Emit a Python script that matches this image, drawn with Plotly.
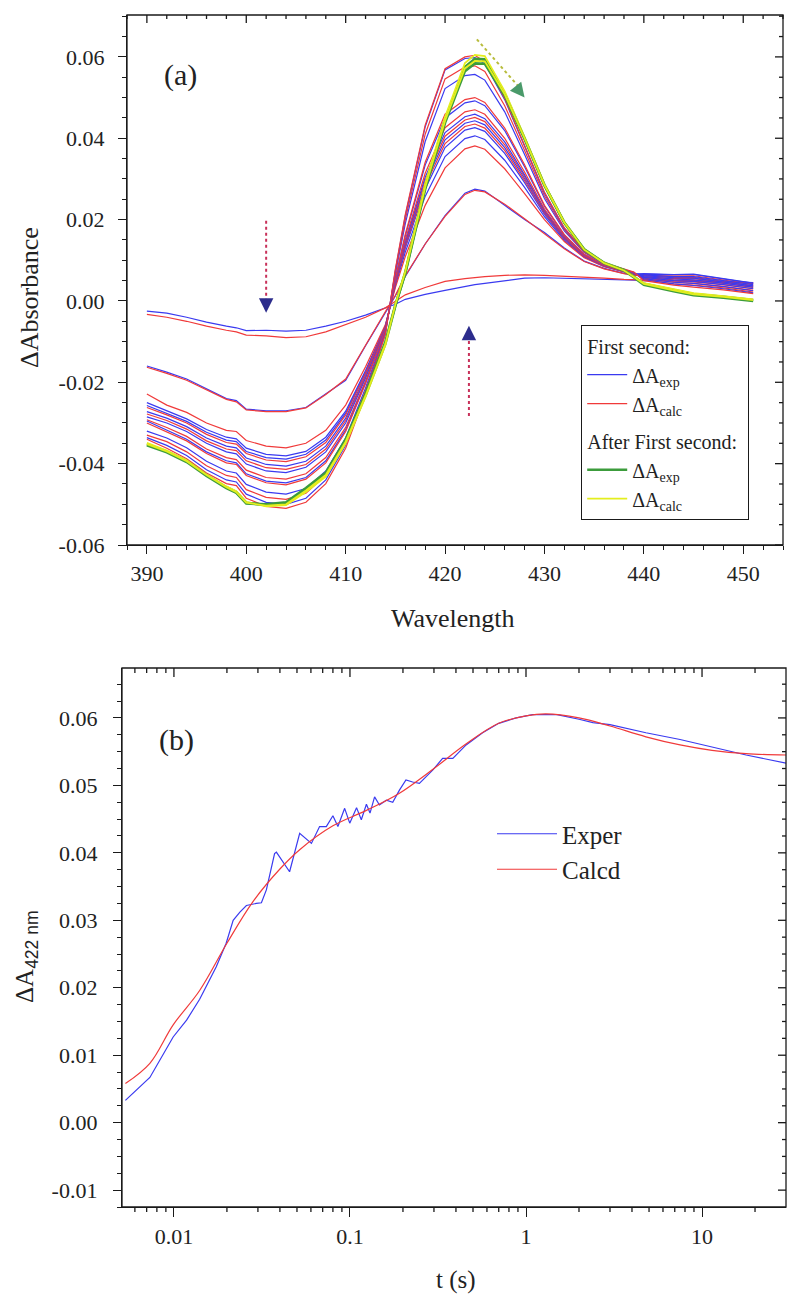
import math
import plotly.graph_objects as go

# ---------------- Panel (a) data ----------------
wavelength = [390, 392, 394, 396, 398, 399, 400, 402, 404, 406, 408, 410, 412, 414, 415, 416, 418,
              420, 422, 423, 424, 426, 428, 430, 432, 434, 436, 438, 439, 440, 443, 445, 448, 451]

exp_1 = [-0.0025, -0.0030, -0.0040, -0.0052, -0.0062, -0.0066, -0.0073, -0.0072, -0.0074, -0.0072, -0.0062, -0.0050, -0.0035, -0.0017, -0.0008, 0.0004, 0.0016, 0.0026, 0.0036, 0.0040, 0.0043, 0.0050, 0.0056, 0.0057, 0.0056, 0.0055, 0.0054, 0.0052, 0.0051, 0.0050, 0.0051, 0.0050, 0.0048, 0.0045]
calc_1 = [-0.0033, -0.0040, -0.0050, -0.0062, -0.0072, -0.0076, -0.0084, -0.0086, -0.0090, -0.0088, -0.0076, -0.0058, -0.0040, -0.0017, 0.0000, 0.0015, 0.0033, 0.0048, 0.0055, 0.0058, 0.0060, 0.0063, 0.0064, 0.0063, 0.0061, 0.0059, 0.0056, 0.0053, 0.0052, 0.0051, 0.0049, 0.0048, 0.0046, 0.0044]
exp_2 = [-0.0160, -0.0175, -0.0192, -0.0215, -0.0240, -0.0245, -0.0266, -0.0270, -0.0270, -0.0262, -0.0228, -0.0195, -0.0110, -0.0028, 0.0012, 0.0060, 0.0140, 0.0210, 0.0265, 0.0275, 0.0270, 0.0235, 0.0200, 0.0168, 0.0130, 0.0098, 0.0080, 0.0068, 0.0064, 0.0066, 0.0064, 0.0065, 0.0054, 0.0043]
calc_2 = [-0.0163, -0.0178, -0.0195, -0.0218, -0.0242, -0.0248, -0.0268, -0.0272, -0.0272, -0.0263, -0.0230, -0.0192, -0.0108, -0.0026, 0.0014, 0.0062, 0.0140, 0.0208, 0.0262, 0.0272, 0.0268, 0.0238, 0.0202, 0.0166, 0.0128, 0.0097, 0.0079, 0.0067, 0.0063, 0.0063, 0.0061, 0.0062, 0.0052, 0.0041]
exp_3 = [-0.0250, -0.0271, -0.0290, -0.0316, -0.0335, -0.0339, -0.0362, -0.0377, -0.0381, -0.0370, -0.0335, -0.0271, -0.0171, -0.0061, 0.0037, 0.0120, 0.0257, 0.0355, 0.0399, 0.0406, 0.0397, 0.0346, 0.0279, 0.0207, 0.0149, 0.0108, 0.0085, 0.0072, 0.0066, 0.0067, 0.0065, 0.0066, 0.0055, 0.0044]
calc_3 = [-0.0229, -0.0256, -0.0274, -0.0300, -0.0318, -0.0321, -0.0343, -0.0357, -0.0361, -0.0350, -0.0318, -0.0256, -0.0162, -0.0058, 0.0033, 0.0109, 0.0235, 0.0327, 0.0374, 0.0381, 0.0373, 0.0325, 0.0264, 0.0200, 0.0146, 0.0106, 0.0084, 0.0071, 0.0066, 0.0062, 0.0058, 0.0058, 0.0048, 0.0038]
exp_4 = [-0.0257, -0.0276, -0.0296, -0.0323, -0.0342, -0.0346, -0.0370, -0.0385, -0.0389, -0.0377, -0.0342, -0.0276, -0.0175, -0.0062, 0.0041, 0.0130, 0.0275, 0.0377, 0.0420, 0.0426, 0.0417, 0.0363, 0.0291, 0.0213, 0.0152, 0.0109, 0.0086, 0.0072, 0.0067, 0.0064, 0.0060, 0.0060, 0.0050, 0.0040]
calc_4 = [-0.0262, -0.0280, -0.0300, -0.0328, -0.0348, -0.0352, -0.0375, -0.0391, -0.0395, -0.0383, -0.0348, -0.0280, -0.0178, -0.0063, 0.0043, 0.0134, 0.0283, 0.0387, 0.0429, 0.0435, 0.0425, 0.0370, 0.0296, 0.0216, 0.0154, 0.0110, 0.0086, 0.0072, 0.0067, 0.0060, 0.0055, 0.0055, 0.0046, 0.0036]
exp_5 = [-0.0272, -0.0288, -0.0309, -0.0337, -0.0357, -0.0361, -0.0386, -0.0402, -0.0406, -0.0394, -0.0357, -0.0288, -0.0183, -0.0065, 0.0045, 0.0138, 0.0290, 0.0396, 0.0437, 0.0443, 0.0433, 0.0377, 0.0301, 0.0218, 0.0155, 0.0110, 0.0087, 0.0073, 0.0067, 0.0062, 0.0057, 0.0056, 0.0047, 0.0037]
calc_5 = [-0.0278, -0.0294, -0.0315, -0.0344, -0.0364, -0.0368, -0.0393, -0.0410, -0.0414, -0.0402, -0.0364, -0.0294, -0.0186, -0.0066, 0.0046, 0.0141, 0.0297, 0.0405, 0.0445, 0.0451, 0.0441, 0.0384, 0.0306, 0.0221, 0.0156, 0.0111, 0.0087, 0.0073, 0.0067, 0.0058, 0.0052, 0.0051, 0.0043, 0.0033]
exp_6 = [-0.0285, -0.0300, -0.0321, -0.0350, -0.0371, -0.0376, -0.0401, -0.0418, -0.0422, -0.0409, -0.0371, -0.0300, -0.0190, -0.0068, 0.0048, 0.0145, 0.0304, 0.0414, 0.0453, 0.0459, 0.0448, 0.0391, 0.0310, 0.0223, 0.0157, 0.0112, 0.0087, 0.0073, 0.0067, 0.0060, 0.0054, 0.0052, 0.0044, 0.0034]
calc_6 = [-0.0292, -0.0311, -0.0333, -0.0364, -0.0385, -0.0390, -0.0416, -0.0434, -0.0438, -0.0425, -0.0385, -0.0311, -0.0197, -0.0070, 0.0050, 0.0150, 0.0314, 0.0426, 0.0465, 0.0470, 0.0459, 0.0400, 0.0317, 0.0226, 0.0159, 0.0112, 0.0088, 0.0073, 0.0068, 0.0056, 0.0049, 0.0047, 0.0040, 0.0030]
exp_7 = [-0.0295, -0.0317, -0.0340, -0.0371, -0.0393, -0.0398, -0.0425, -0.0443, -0.0447, -0.0434, -0.0393, -0.0317, -0.0201, -0.0072, 0.0054, 0.0160, 0.0334, 0.0450, 0.0487, 0.0492, 0.0480, 0.0419, 0.0330, 0.0233, 0.0162, 0.0114, 0.0089, 0.0074, 0.0068, 0.0058, 0.0050, 0.0048, 0.0040, 0.0030]
calc_7 = [-0.0300, -0.0321, -0.0344, -0.0375, -0.0398, -0.0402, -0.0429, -0.0447, -0.0452, -0.0438, -0.0398, -0.0321, -0.0203, -0.0072, 0.0056, 0.0164, 0.0341, 0.0459, 0.0495, 0.0500, 0.0488, 0.0425, 0.0335, 0.0235, 0.0163, 0.0115, 0.0089, 0.0074, 0.0068, 0.0054, 0.0046, 0.0043, 0.0036, 0.0026]
exp_8 = [-0.0320, -0.0337, -0.0361, -0.0394, -0.0418, -0.0423, -0.0451, -0.0470, -0.0475, -0.0461, -0.0418, -0.0337, -0.0214, -0.0076, 0.0067, 0.0190, 0.0392, 0.0522, 0.0554, 0.0557, 0.0543, 0.0465, 0.0360, 0.0252, 0.0172, 0.0119, 0.0091, 0.0076, 0.0069, 0.0055, 0.0046, 0.0043, 0.0035, 0.0025]
calc_8 = [-0.0330, -0.0346, -0.0371, -0.0405, -0.0429, -0.0434, -0.0464, -0.0483, -0.0488, -0.0473, -0.0429, -0.0346, -0.0220, -0.0078, 0.0071, 0.0200, 0.0410, 0.0546, 0.0575, 0.0578, 0.0564, 0.0480, 0.0370, 0.0258, 0.0175, 0.0120, 0.0092, 0.0076, 0.0070, 0.0052, 0.0042, 0.0039, 0.0032, 0.0022]
exp_9 = [-0.0336, -0.0355, -0.0380, -0.0415, -0.0440, -0.0445, -0.0475, -0.0495, -0.0500, -0.0485, -0.0440, -0.0355, -0.0225, -0.0080, 0.0075, 0.0209, 0.0428, 0.0568, 0.0596, 0.0598, 0.0583, 0.0495, 0.0380, 0.0264, 0.0178, 0.0122, 0.0093, 0.0077, 0.0070, 0.0052, 0.0042, 0.0038, 0.0030, 0.0020]
calc_9 = [-0.0340, -0.0362, -0.0388, -0.0423, -0.0449, -0.0454, -0.0485, -0.0505, -0.0510, -0.0495, -0.0449, -0.0362, -0.0230, -0.0082, 0.0078, 0.0213, 0.0432, 0.0571, 0.0600, 0.0604, 0.0588, 0.0498, 0.0383, 0.0268, 0.0180, 0.0123, 0.0094, 0.0078, 0.0071, 0.0050, 0.0039, 0.0034, 0.0027, 0.0018]

after_exp_1 = [-0.0352, -0.0370, -0.0393, -0.0428, -0.0458, -0.0470, -0.0496, -0.0502, -0.0498, -0.0465, -0.0428, -0.0345, -0.0232, -0.0105, -0.0012, 0.0070, 0.0280, 0.0445, 0.0575, 0.0595, 0.0594, 0.0510, 0.0400, 0.0285, 0.0193, 0.0127, 0.0094, 0.0076, 0.0060, 0.0042, 0.0027, 0.0017, 0.0010, 0.0002]
after_calc_1 = [-0.0349, -0.0368, -0.0392, -0.0427, -0.0456, -0.0468, -0.0494, -0.0505, -0.0502, -0.0470, -0.0432, -0.0350, -0.0236, -0.0108, -0.0008, 0.0075, 0.0288, 0.0452, 0.0585, 0.0605, 0.0602, 0.0515, 0.0403, 0.0287, 0.0194, 0.0127, 0.0094, 0.0076, 0.0060, 0.0044, 0.0029, 0.0019, 0.0012, 0.0004]
after_exp_2 = [-0.0355, -0.0372, -0.0396, -0.0430, -0.0460, -0.0472, -0.0498, -0.0500, -0.0495, -0.0460, -0.0422, -0.0340, -0.0228, -0.0100, -0.0010, 0.0068, 0.0275, 0.0438, 0.0565, 0.0584, 0.0583, 0.0505, 0.0398, 0.0284, 0.0192, 0.0126, 0.0093, 0.0075, 0.0058, 0.0040, 0.0024, 0.0014, 0.0008, 0.0000]
after_calc_2 = [-0.0352, -0.0370, -0.0394, -0.0428, -0.0458, -0.0470, -0.0496, -0.0503, -0.0500, -0.0466, -0.0428, -0.0346, -0.0233, -0.0105, -0.0009, 0.0072, 0.0280, 0.0443, 0.0572, 0.0590, 0.0589, 0.0508, 0.0400, 0.0285, 0.0193, 0.0126, 0.0093, 0.0075, 0.0059, 0.0042, 0.0026, 0.0016, 0.0010, 0.0002]

first_exp = [exp_1, exp_2, exp_3, exp_4, exp_5, exp_6, exp_7, exp_8, exp_9]
first_calc = [calc_1, calc_2, calc_3, calc_4, calc_5, calc_6, calc_7, calc_8, calc_9]
after_exp = [after_exp_1, after_exp_2]
after_calc = [after_calc_1, after_calc_2]

a_xticks = [390, 400, 410, 420, 430, 440, 450]
a_xtext = ["390", "400", "410", "420", "430", "440", "450"]
a_yticks = [-0.06, -0.04, -0.02, 0.00, 0.02, 0.04, 0.06]
a_ytext = ["-0.06", "-0.04", "-0.02", "0.00", "0.02", "0.04", "0.06"]

# ---------------- Panel (b) data ----------------
t_exp = [0.0053, 0.0073, 0.0099, 0.0118, 0.014, 0.0174, 0.0198, 0.0217, 0.0237, 0.0258, 0.0294, 0.0314,
         0.0335, 0.0373, 0.0382, 0.0454, 0.0518, 0.0604, 0.0672, 0.0734, 0.080, 0.0854, 0.0933, 0.0997,
         0.109, 0.116, 0.124, 0.130, 0.138, 0.147, 0.161, 0.175, 0.191, 0.208, 0.227, 0.248, 0.271, 0.296,
         0.336, 0.384, 0.457, 0.567, 0.70, 0.88, 1.09, 1.5, 2.0, 2.4, 3.0, 4.8, 7.5, 11.4, 17.8, 30]
dA_exp = [0.0033, 0.0067, 0.0127, 0.0152, 0.0183, 0.0231, 0.0266, 0.0300, 0.0312, 0.0322, 0.0325, 0.0326,
          0.0345, 0.0399, 0.0401, 0.0372, 0.0429, 0.0414, 0.0439, 0.0439, 0.0455, 0.0439, 0.0466, 0.0444,
          0.0467, 0.0449, 0.0472, 0.0459, 0.0483, 0.0471, 0.0478, 0.0475, 0.0493, 0.0508, 0.0505, 0.0503,
          0.0513, 0.0523, 0.0540, 0.0540, 0.0560, 0.0578, 0.0592, 0.0600, 0.0605, 0.0605, 0.0598, 0.0593,
          0.0590, 0.0578, 0.0568, 0.0557, 0.0545, 0.0533]
t_calc = [0.0053, 0.0073, 0.0099, 0.014, 0.020, 0.028, 0.040, 0.052, 0.080, 0.124, 0.19, 0.30, 0.46,
          0.70, 1.0, 1.3, 2.0, 3.0, 4.8, 7.5, 11.4, 17.8, 30]
dA_calc = [0.0058, 0.0088, 0.0145, 0.0196, 0.0266, 0.0327, 0.0376, 0.0405, 0.0440, 0.0463, 0.0488, 0.0525,
           0.0562, 0.0592, 0.0603, 0.0606, 0.0600, 0.0588, 0.0572, 0.0560, 0.0552, 0.0547, 0.0545]

b_xticks = [0.01, 0.1, 1, 10]
b_xtext = ["0.01", "0.1", "1", "10"]
b_xminor = [0.006, 0.007, 0.008, 0.009, 0.02, 0.03, 0.04, 0.05, 0.06, 0.07, 0.08, 0.09,
            0.2, 0.3, 0.4, 0.5, 0.6, 0.7, 0.8, 0.9, 2, 3, 4, 5, 6, 7, 8, 9, 20]
b_yticks = [-0.01, 0.00, 0.01, 0.02, 0.03, 0.04, 0.05, 0.06]
b_ytext = ["-0.01", "0.00", "0.01", "0.02", "0.03", "0.04", "0.05", "0.06"]

# ---------------- styling ----------------
W, H = 788, 1295
SERIF = "Liberation Serif, Times New Roman, serif"
BLUE = "#3a3af0"
RED = "#f03a3a"
GREEN = "#3c9c3c"
YELLOW = "#e4ee1e"
AX = "#1a1a1a"
TXT = "#222222"


def px(xp):
    return xp / W


def py(yp):
    return 1 - yp / H


fig = go.Figure()

for i, (e, c) in enumerate(zip(first_exp, first_calc)):
    fig.add_trace(go.Scatter(x=wavelength, y=e, mode="lines", xaxis="x", yaxis="y",
                             line=dict(color=BLUE, width=1.2), name="ΔA<sub>exp</sub>",
                             legend="legend", legendgroup="first", showlegend=(i == 0),
                             legendgrouptitle=dict(text="First second:") if i == 0 else None))
    fig.add_trace(go.Scatter(x=wavelength, y=c, mode="lines", xaxis="x", yaxis="y",
                             line=dict(color=RED, width=1.2), name="ΔA<sub>calc</sub>",
                             legend="legend", legendgroup="first", showlegend=(i == 0)))
for i, (e, c) in enumerate(zip(after_exp, after_calc)):
    fig.add_trace(go.Scatter(x=wavelength, y=e, mode="lines", xaxis="x", yaxis="y",
                             line=dict(color=GREEN, width=2.6), name="ΔA<sub>exp</sub>",
                             legend="legend", legendgroup="after", showlegend=(i == 0),
                             legendgrouptitle=dict(text="After First second:") if i == 0 else None))
    fig.add_trace(go.Scatter(x=wavelength, y=c, mode="lines", xaxis="x", yaxis="y",
                             line=dict(color=YELLOW, width=1.8), name="ΔA<sub>calc</sub>",
                             legend="legend", legendgroup="after", showlegend=(i == 0)))

fig.add_trace(go.Scatter(x=t_exp, y=dA_exp, mode="lines", xaxis="x2", yaxis="y2",
                         line=dict(color=BLUE, width=1.2), name="Exper", legend="legend2"))
fig.add_trace(go.Scatter(x=t_calc, y=dA_calc, mode="lines", xaxis="x2", yaxis="y2",
                         line=dict(color=RED, width=1.2, shape="spline"), name="Calcd", legend="legend2"))

# panel geometry (pixels of the 788x1295 page)
A_L, A_R, A_T, A_B = 127, 783, 15, 545
B_L, B_R, B_T, B_B = 122, 786, 668, 1207
xa_range = [388, 454]
ya_range = [-0.06, 0.0703]
xb_range = [-2.295, 1.477]
yb_range = [-0.0125, 0.0674]


def axis(**kw):
    d = dict(showgrid=False, zeroline=False, showline=True, linecolor=AX, linewidth=1.3,
             tickcolor=AX, tickwidth=1.3,
             tickfont=dict(family=SERIF, size=22, color=TXT))
    d.update(kw)
    return d


fig.update_layout(
    width=W, height=H, margin=dict(l=0, r=0, t=0, b=0), autosize=False,
    paper_bgcolor="white", plot_bgcolor="white", template="none",
    font=dict(family=SERIF, color=TXT),
    xaxis=axis(domain=[px(A_L), px(A_R)], anchor="y", range=xa_range, tickmode="array",
               tickvals=a_xticks, ticktext=a_xtext, ticks="outside", ticklen=8,
               minor=dict(ticks="outside", ticklen=4, tickcolor=AX, dtick=2, tick0=390)),
    yaxis=axis(domain=[py(A_B), py(A_T)], anchor="x", range=ya_range, tickmode="array",
               tickvals=a_yticks, ticktext=a_ytext, ticks="outside", ticklen=8, ticklabelstandoff=9,
               minor=dict(ticks="outside", ticklen=4, tickcolor=AX, dtick=0.005, tick0=0)),
    xaxis2=axis(domain=[px(B_L), px(B_R)], anchor="y2", type="log", range=xb_range, tickmode="array",
                tickvals=b_xticks, ticktext=b_xtext, ticks="outside", ticklen=9),
    yaxis2=axis(domain=[py(B_B), py(B_T)], anchor="x2", range=yb_range, tickmode="array",
                tickvals=b_yticks, ticktext=b_ytext, ticks="outside", ticklen=8, ticklabelstandoff=11,
                minor=dict(ticks="outside", ticklen=4, tickcolor=AX, dtick=0.0025, tick0=0)),
    legend=dict(x=px(581), y=py(325), xanchor="left", yanchor="top", bgcolor="white",
                bordercolor=AX, borderwidth=1.2, tracegroupgap=8, traceorder="grouped",
                font=dict(family=SERIF, size=20, color=TXT),
                grouptitlefont=dict(family=SERIF, size=20, color=TXT), itemwidth=40),
    legend2=dict(x=px(492), y=py(811), xanchor="left", yanchor="top", bgcolor="rgba(0,0,0,0)",
                 borderwidth=0, font=dict(family=SERIF, size=25, color=TXT), itemwidth=60),
)

# plot frames
for (l, r, t, b) in ((A_L, A_R, A_T, A_B), (B_L, B_R, B_T, B_B)):
    fig.add_shape(type="rect", xref="paper", yref="paper", x0=px(l), x1=px(r), y0=py(b), y1=py(t),
                  layer="above", line=dict(color=AX, width=1.3), fillcolor="rgba(0,0,0,0)")


# tick marks not provided by the main axes (Origin style mirrored inward ticks, log minor ticks)
def vtick(xpix, y0pix, y1pix):
    fig.add_shape(type="line", xref="paper", yref="paper", x0=px(xpix), x1=px(xpix),
                  y0=py(y0pix), y1=py(y1pix), line=dict(color=AX, width=1.3), layer="above")


def htick(ypix, x0pix, x1pix):
    fig.add_shape(type="line", xref="paper", yref="paper", x0=px(x0pix), x1=px(x1pix),
                  y0=py(ypix), y1=py(ypix), line=dict(color=AX, width=1.3), layer="above")


def xa_pix(v):
    return A_L + (v - xa_range[0]) / (xa_range[1] - xa_range[0]) * (A_R - A_L)


def ya_pix(v):
    return A_B - (v - ya_range[0]) / (ya_range[1] - ya_range[0]) * (A_B - A_T)


def xb_pix(v):
    return B_L + (math.log10(v) - xb_range[0]) / (xb_range[1] - xb_range[0]) * (B_R - B_L)


def yb_pix(v):
    return B_B - (v - yb_range[0]) / (yb_range[1] - yb_range[0]) * (B_B - B_T)


a_xminor = [v for v in range(388, 455, 2) if v % 10 != 0]
a_yminor = [k * 0.005 for k in range(-11, 15) if k % 4 != 0]
b_yminor = [k * 0.0025 for k in range(-4, 27) if k % 4 != 0]

for v in a_xticks:
    vtick(xa_pix(v), A_T, A_T + 8)
for v in a_xminor:
    vtick(xa_pix(v), A_T, A_T + 4)
for v in a_yticks:
    htick(ya_pix(v), A_R, A_R - 8)
for v in a_yminor:
    htick(ya_pix(v), A_R, A_R - 4)
for v in b_xticks:
    vtick(xb_pix(v), B_T, B_T + 9)
for v in b_xminor:
    vtick(xb_pix(v), B_T, B_T + 5)
    vtick(xb_pix(v), B_B, B_B + 5)
for v in b_yticks:
    htick(yb_pix(v), B_R, B_R - 8)
for v in b_yminor:
    htick(yb_pix(v), B_R, B_R - 4)

# arrows in panel (a): dashed shafts + heads
shaft = [
    dict(x0=402.0, y0=0.0197, x1=402.0, y1=0.0004, color="#c8305a"),
    dict(x0=422.4, y0=-0.0283, x1=422.4, y1=-0.0094, color="#c8305a"),
    dict(x0=423.2, y0=0.0643, x1=427.3, y1=0.0530, color="#b8bc3c"),
]
for s in shaft:
    fig.add_shape(type="line", xref="x", yref="y", x0=s["x0"], y0=s["y0"], x1=s["x1"], y1=s["y1"],
                  line=dict(color=s["color"], width=2, dash="dot"))

heads = [
    dict(x=402.0, y=-0.0029, ax=0, ay=-6, color="#2c2c8c"),
    dict(x=422.4, y=-0.0061, ax=0, ay=6, color="#2c2c8c"),
    dict(x=428.0, y=0.0500, ax=-4, ay=-5, color="#4a9a6a"),
]
for h in heads:
    fig.add_annotation(x=h["x"], y=h["y"], xref="x", yref="y", ax=h["ax"], ay=h["ay"], text="",
                       showarrow=True, arrowhead=2, arrowsize=1.8, arrowwidth=1.6,
                       arrowcolor=h["color"], standoff=0)

# panel labels and axis titles
texts = [
    dict(x=px(180), y=py(75), text="(a)", size=30, angle=0),
    dict(x=px(176), y=py(740), text="(b)", size=30, angle=0),
    dict(x=px(29), y=py(298), text="ΔAbsorbance", size=26, angle=-90),
    dict(x=px(453), y=py(618), text="Wavelength", size=26, angle=0),
    dict(x=px(26), y=py(957),
         text='ΔA<sub><span style="font-family:Liberation Sans">422 nm</span></sub>', size=25, angle=-90),
    dict(x=px(456), y=py(1280), text="t (s)", size=25, angle=0),
]
for t in texts:
    fig.add_annotation(x=t["x"], y=t["y"], xref="paper", yref="paper", text=t["text"], showarrow=False,
                       textangle=t["angle"], xanchor="center", yanchor="middle",
                       font=dict(family=SERIF, size=t["size"], color=TXT))

fig.write_html("out.html", config={"displayModeBar": False},
               post_script="document.body.style.margin='0px';"
                           "document.body.style.overflow='hidden';")
